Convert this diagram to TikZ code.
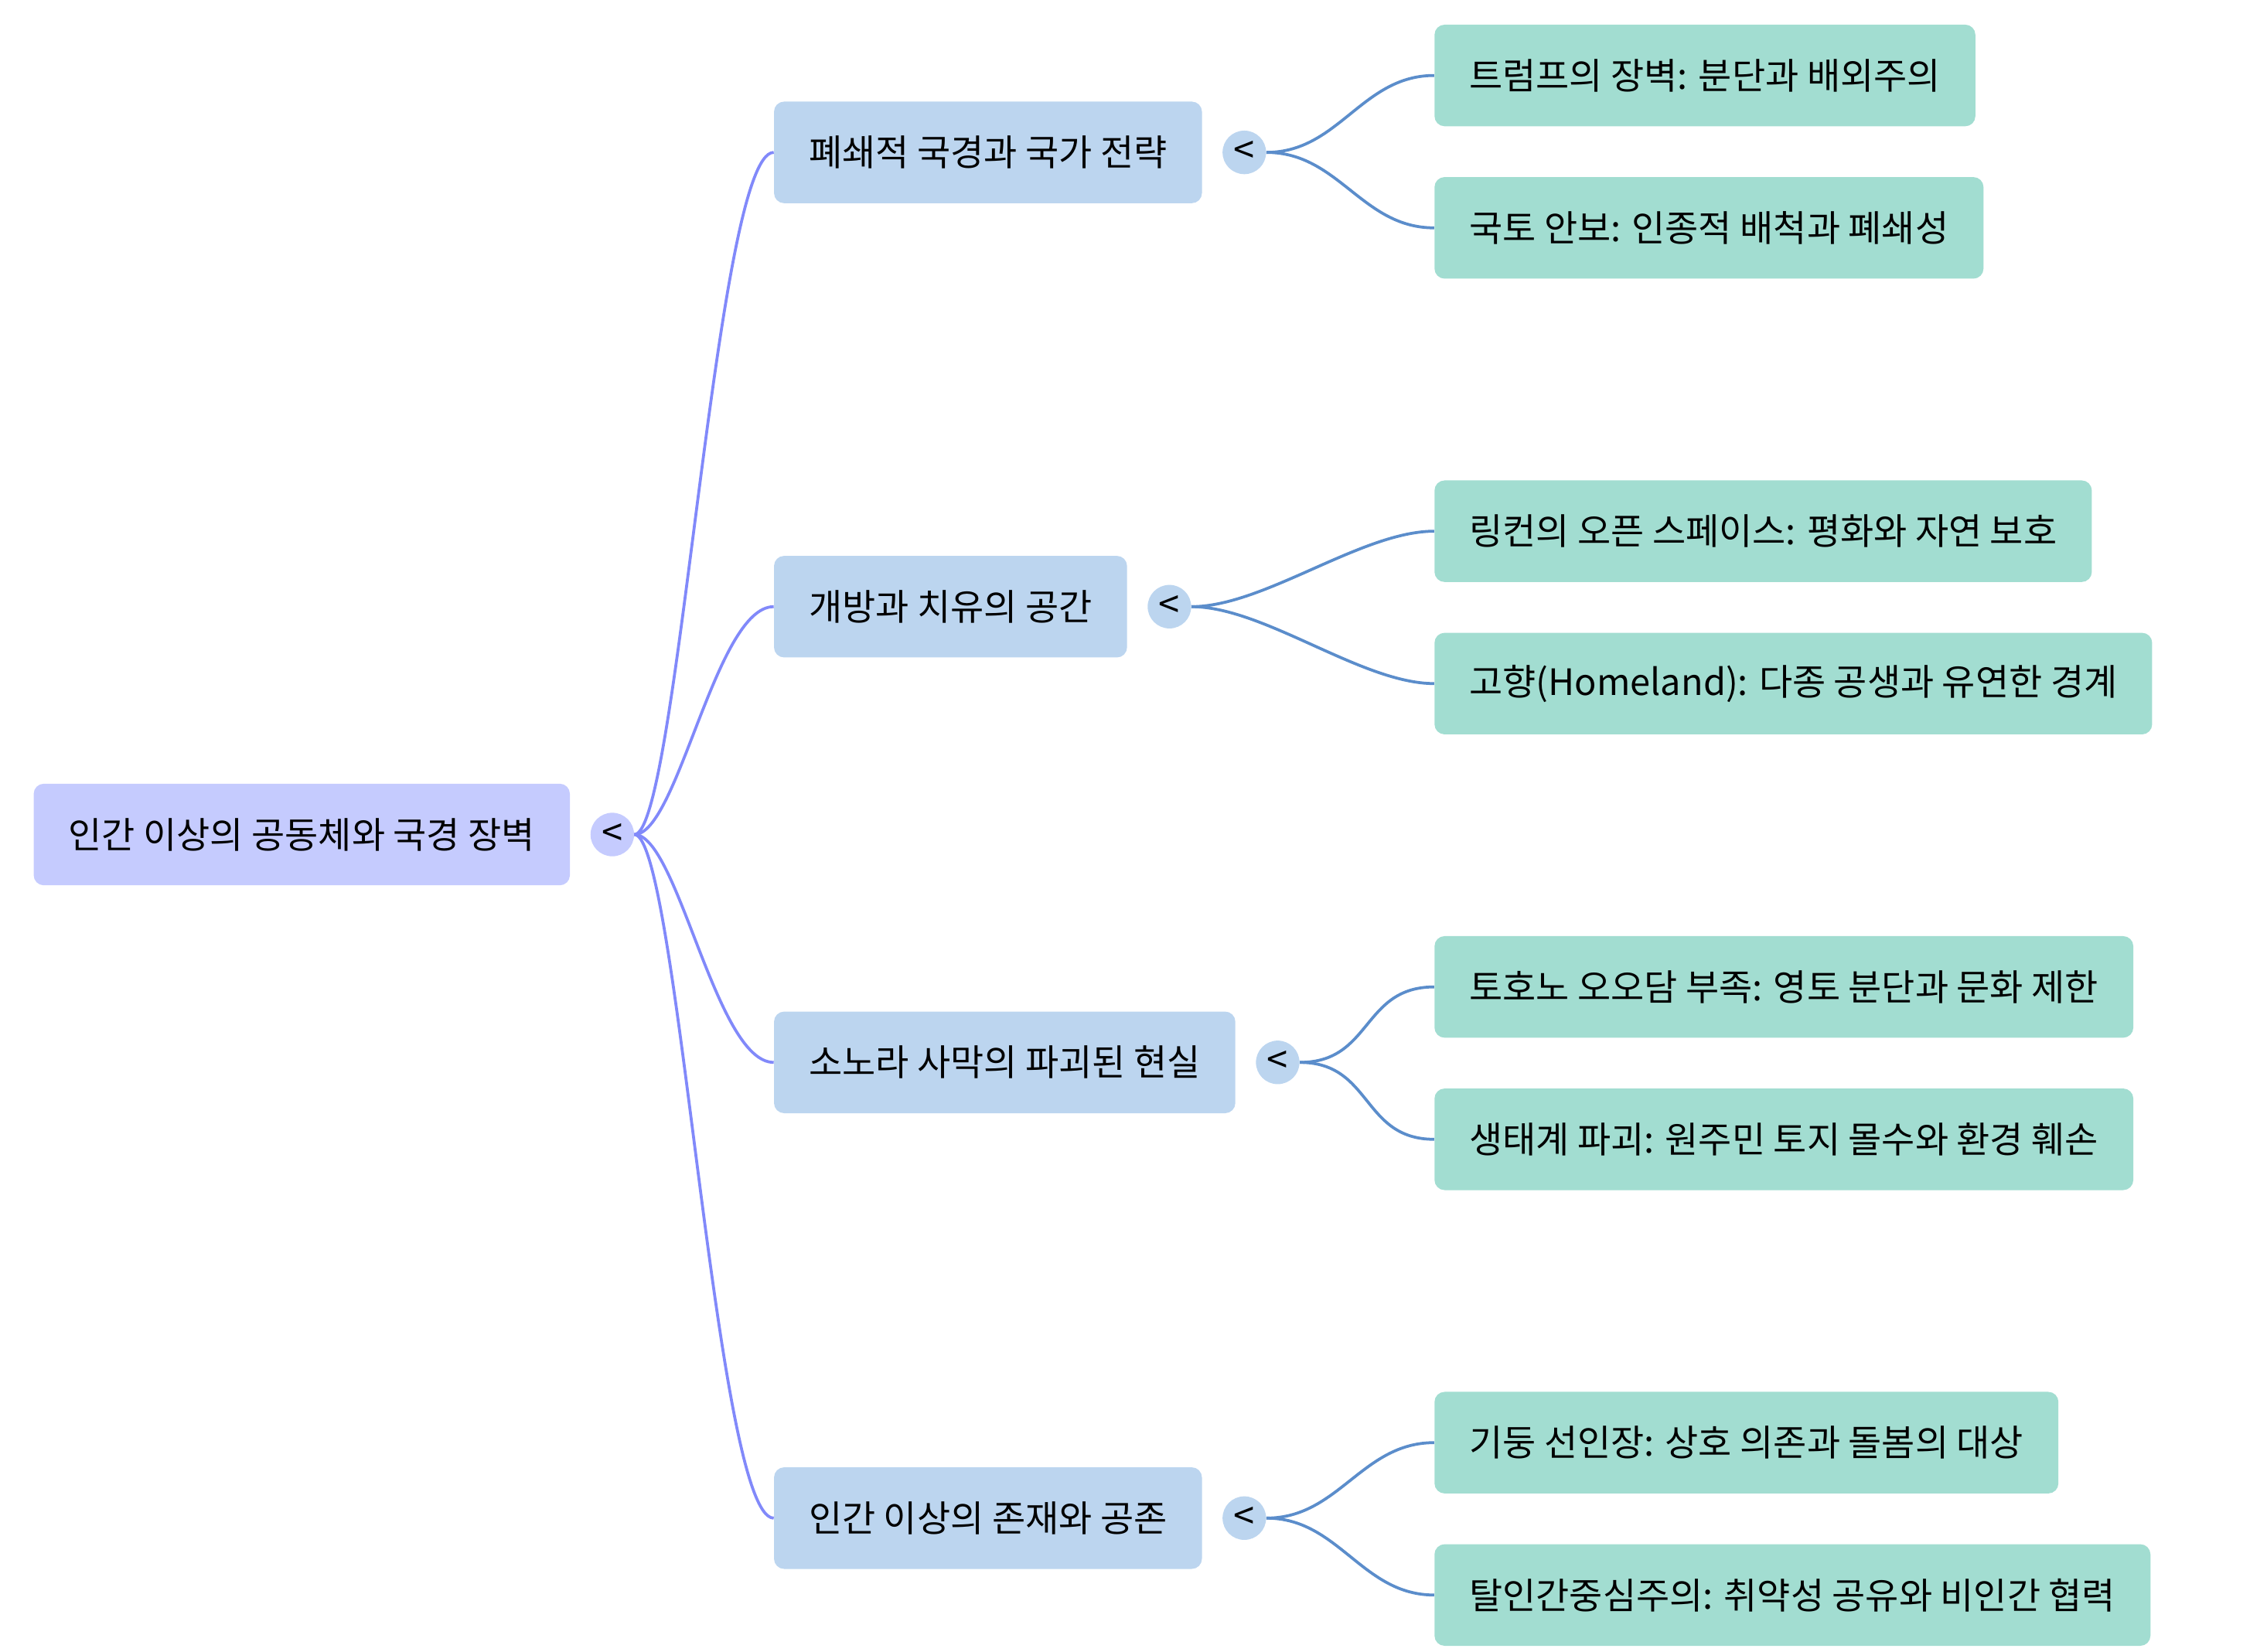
\documentclass[tikz,border=0pt]{standalone}
\usepackage{fontspec}
\setmainfont{Noto Sans CJK KR}
\definecolor{rootfill}{HTML}{C5CBFE}
\definecolor{midfill}{HTML}{BCD5EF}
\definecolor{leaffill}{HTML}{A2DDD1}
\definecolor{rootline}{HTML}{8189FA}
\definecolor{midline}{HTML}{5B8DCB}
\begin{document}
\begin{tikzpicture}
  [
    x=1pt,y=1pt,
    box/.style={rounded corners=7pt,minimum height=70pt,anchor=west,inner xsep=24pt,font=\fontsize{25}{30}\selectfont},
    rootbox/.style={box,fill=rootfill},
    midbox/.style={box,fill=midfill},
    leafbox/.style={box,fill=leaffill},
    knob/.style={circle,minimum size=30pt,inner sep=0pt,font=\fontsize{26}{30}\selectfont},
    rootedge/.style={rootline,line width=2pt},
    midedge/.style={midline,line width=2pt}
  ]
  \useasboundingbox (0,0) rectangle (1550,-1138);
  % root
  \node[rootbox] (root) at (23,-575) {인간 이상의 공동체와 국경 장벽};
  \node[knob,fill=rootfill] (rk) at ([xshift=29pt]root.east) {<};
  % middle level
  \foreach \n/\y/\t in {
      a/105/폐쇄적 국경과 국가 전략,
      b/418/개방과 치유의 공간,
      c/732/소노라 사막의 파괴된 현실,
      d/1046/인간 이상의 존재와 공존} {
    \node[midbox] (\n) at (533,-\y) {\t};
    \node[knob,fill=midfill] (\n k) at ([xshift=29pt]\n.east) {<};
    \draw[rootedge] (rk.east) .. controls +(30,0) and +(-40,0) .. (\n.west);
  }
  % leaves
  \foreach \p/\n/\y/\t in {
      a/a1/52/트럼프의 장벽: 분단과 배외주의,
      a/a2/157/국토 안보: 인종적 배척과 폐쇄성,
      b/b1/366/링컨의 오픈 스페이스: 평화와 자연 보호,
      b/b2/471/고향(Homeland): 다종 공생과 유연한 경계,
      c/c1/680/토호노 오오담 부족: 영토 분단과 문화 제한,
      c/c2/785/생태계 파괴: 원주민 토지 몰수와 환경 훼손,
      d/d1/994/기둥 선인장: 상호 의존과 돌봄의 대상,
      d/d2/1099/탈인간중심주의: 취약성 공유와 비인간 협력} {
    \node[leafbox] (\n) at (988,-\y) {\t};
    \draw[midedge] (\p k.east) .. controls +(50,0) and +(-50,0) .. (\n.west);
  }
\end{tikzpicture}
\end{document}
